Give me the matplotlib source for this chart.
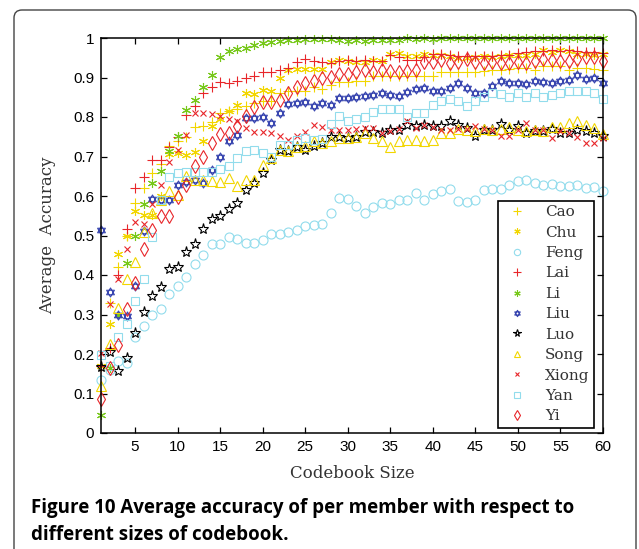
import matplotlib
matplotlib.use('Agg')
import matplotlib.pyplot as plt
from matplotlib.path import Path
from matplotlib.patches import FancyBboxPatch
import numpy as np

sizes = np.arange(1, 61)

cao = [0.17, 0.33, 0.42, 0.50, 0.583, 0.621, 0.657, 0.68, 0.727, 0.738, 0.75, 0.775, 0.776, 0.788, 0.811,
       0.815, 0.82, 0.828, 0.835, 0.84, 0.84, 0.86, 0.866, 0.866, 0.866, 0.877, 0.872, 0.88, 0.889, 0.889,
       0.89, 0.892, 0.904, 0.905, 0.905, 0.903, 0.905, 0.905, 0.905, 0.903, 0.915, 0.915, 0.915, 0.913, 0.915,
       0.917, 0.92, 0.92, 0.922, 0.923, 0.923, 0.918, 0.928, 0.928, 0.928, 0.92, 0.923, 0.923, 0.921, 0.92]
chu = [0.17, 0.276, 0.454, 0.50, 0.563, 0.552, 0.552, 0.60, 0.706, 0.71, 0.705, 0.712, 0.739, 0.776, 0.794,
       0.816, 0.83, 0.861, 0.859, 0.868, 0.865, 0.90, 0.92, 0.922, 0.922, 0.921, 0.921, 0.938, 0.945, 0.942,
       0.94, 0.94, 0.945, 0.943, 0.96, 0.962, 0.955, 0.955, 0.96, 0.958, 0.958, 0.955, 0.95, 0.95, 0.952,
       0.955, 0.953, 0.955, 0.957, 0.958, 0.958, 0.96, 0.97, 0.965, 0.97, 0.967, 0.96, 0.96, 0.958, 0.96]
feng = [0.134, 0.16, 0.183, 0.177, 0.243, 0.271, 0.30, 0.313, 0.352, 0.372, 0.395, 0.428, 0.45, 0.478, 0.479,
        0.497, 0.491, 0.481, 0.481, 0.488, 0.505, 0.503, 0.51, 0.515, 0.524, 0.527, 0.53, 0.556, 0.594, 0.592,
        0.575, 0.558, 0.571, 0.583, 0.579, 0.59, 0.59, 0.607, 0.59, 0.605, 0.613, 0.618, 0.588, 0.586, 0.59,
        0.615, 0.618, 0.618, 0.627, 0.637, 0.64, 0.633, 0.627, 0.631, 0.625, 0.625, 0.627, 0.619, 0.622, 0.613]
lai = [0.17, 0.215, 0.40, 0.516, 0.62, 0.647, 0.69, 0.69, 0.723, 0.75, 0.805, 0.828, 0.861, 0.877, 0.889,
       0.885, 0.891, 0.898, 0.904, 0.915, 0.913, 0.92, 0.925, 0.94, 0.946, 0.943, 0.94, 0.936, 0.942, 0.944,
       0.942, 0.945, 0.943, 0.942, 0.957, 0.951, 0.944, 0.944, 0.953, 0.959, 0.96, 0.958, 0.955, 0.954, 0.955,
       0.954, 0.955, 0.957, 0.958, 0.963, 0.964, 0.967, 0.967, 0.969, 0.966, 0.969, 0.966, 0.965, 0.965, 0.963]
li = [0.045, 0.165, 0.30, 0.43, 0.50, 0.58, 0.632, 0.664, 0.713, 0.753, 0.818, 0.843, 0.877, 0.906, 0.953,
      0.967, 0.973, 0.975, 0.983, 0.987, 0.99, 0.993, 0.995, 0.996, 0.997, 0.998, 0.998, 0.998, 0.994, 0.993,
      0.994, 0.993, 0.994, 0.994, 0.995, 0.996, 0.999, 0.998, 0.999, 0.998, 0.999, 0.999, 0.999, 0.999, 0.999,
      0.999, 0.999, 0.999, 0.999, 0.999, 0.999, 0.999, 0.999, 0.999, 0.999, 0.999, 0.999, 0.999, 0.999, 0.999]
liu = [0.515, 0.358, 0.298, 0.295, 0.372, 0.512, 0.592, 0.59, 0.59, 0.628, 0.635, 0.64, 0.632, 0.667, 0.70,
       0.738, 0.754, 0.797, 0.797, 0.80, 0.786, 0.809, 0.833, 0.836, 0.837, 0.828, 0.836, 0.83, 0.849, 0.849,
       0.851, 0.853, 0.855, 0.86, 0.855, 0.853, 0.863, 0.872, 0.874, 0.865, 0.867, 0.874, 0.885, 0.874, 0.861,
       0.861, 0.878, 0.891, 0.885, 0.885, 0.883, 0.89, 0.889, 0.887, 0.89, 0.893, 0.906, 0.896, 0.898, 0.887]
luo = [0.168, 0.205, 0.157, 0.19, 0.254, 0.306, 0.348, 0.37, 0.415, 0.42, 0.459, 0.478, 0.516, 0.542, 0.55,
       0.566, 0.583, 0.614, 0.634, 0.657, 0.69, 0.716, 0.715, 0.725, 0.716, 0.727, 0.733, 0.75, 0.75, 0.746,
       0.75, 0.763, 0.763, 0.759, 0.767, 0.768, 0.78, 0.778, 0.78, 0.776, 0.776, 0.79, 0.78, 0.771, 0.752,
       0.768, 0.767, 0.782, 0.767, 0.777, 0.759, 0.764, 0.764, 0.77, 0.76, 0.759, 0.768, 0.764, 0.759, 0.752]
song = [0.12, 0.225, 0.317, 0.39, 0.434, 0.51, 0.556, 0.59, 0.613, 0.602, 0.65, 0.641, 0.641, 0.638, 0.636,
        0.646, 0.625, 0.641, 0.641, 0.678, 0.695, 0.716, 0.713, 0.725, 0.726, 0.738, 0.733, 0.738, 0.746, 0.747,
        0.75, 0.76, 0.746, 0.738, 0.723, 0.738, 0.742, 0.741, 0.738, 0.742, 0.76, 0.759, 0.77, 0.767, 0.765,
        0.77, 0.767, 0.77, 0.775, 0.768, 0.765, 0.767, 0.764, 0.775, 0.775, 0.784, 0.789, 0.78, 0.771, 0.756]
xiong = [0.203, 0.327, 0.39, 0.465, 0.533, 0.53, 0.58, 0.628, 0.685, 0.716, 0.755, 0.81, 0.81, 0.808, 0.803,
         0.795, 0.79, 0.771, 0.763, 0.763, 0.759, 0.752, 0.743, 0.752, 0.763, 0.78, 0.775, 0.767, 0.767, 0.768,
         0.77, 0.772, 0.772, 0.76, 0.765, 0.77, 0.79, 0.772, 0.781, 0.775, 0.767, 0.768, 0.77, 0.77, 0.776,
         0.77, 0.767, 0.752, 0.752, 0.767, 0.784, 0.767, 0.767, 0.746, 0.764, 0.76, 0.75, 0.735, 0.735, 0.746]
yan = [0.197, 0.17, 0.244, 0.275, 0.333, 0.39, 0.497, 0.59, 0.649, 0.657, 0.662, 0.66, 0.662, 0.662, 0.668,
       0.676, 0.695, 0.714, 0.717, 0.71, 0.70, 0.729, 0.729, 0.743, 0.748, 0.742, 0.745, 0.782, 0.802, 0.79,
       0.795, 0.80, 0.813, 0.82, 0.82, 0.82, 0.80, 0.81, 0.81, 0.83, 0.84, 0.845, 0.84, 0.829, 0.841,
       0.851, 0.86, 0.857, 0.851, 0.86, 0.851, 0.862, 0.851, 0.855, 0.86, 0.866, 0.866, 0.867, 0.862, 0.845]
yi = [0.085, 0.165, 0.223, 0.314, 0.38, 0.467, 0.514, 0.549, 0.549, 0.598, 0.628, 0.677, 0.70, 0.733, 0.758,
      0.759, 0.777, 0.803, 0.825, 0.839, 0.839, 0.843, 0.86, 0.875, 0.885, 0.89, 0.90, 0.902, 0.91, 0.908,
      0.913, 0.92, 0.913, 0.92, 0.917, 0.913, 0.917, 0.92, 0.94, 0.94, 0.945, 0.937, 0.94, 0.946, 0.94,
      0.937, 0.94, 0.937, 0.937, 0.94, 0.937, 0.943, 0.948, 0.944, 0.943, 0.943, 0.948, 0.953, 0.952, 0.943]

# star of David marker: two overlapping triangles
ang_up = np.deg2rad([90, 210, 330, 90])
ang_dn = np.deg2rad([270, 30, 150, 270])
hex_verts = list(zip(np.cos(ang_up), np.sin(ang_up))) + list(zip(np.cos(ang_dn), np.sin(ang_dn)))
hex_codes = [Path.MOVETO, Path.LINETO, Path.LINETO, Path.CLOSEPOLY] * 2
hexagram = Path(hex_verts, hex_codes)

yellow = '#f2d600'
cyan = '#92dcec'
red = '#e8262a'
green = '#77c81a'
blue = '#3a47b0'

series = [
    ('Cao', cao, '+', yellow, 7.5),
    ('Chu', chu, (6, 2, 0), yellow, 6.5),
    ('Feng', feng, 'o', cyan, 6.5),
    ('Lai', lai, '+', red, 7.5),
    ('Li', li, (6, 2, 0), green, 6.5),
    ('Liu', liu, hexagram, blue, 6.5),
    ('Luo', luo, '*', 'black', 8),
    ('Song', song, '^', yellow, 7),
    ('Xiong', xiong, 'x', red, 5),
    ('Yan', yan, 's', cyan, 6),
    ('Yi', yi, 'd', red, 7.5),
]

fig = plt.figure(figsize=(6.39, 5.49), dpi=100)
ax = fig.add_axes([101 / 639, 1 - 433 / 549, 502 / 639, 395 / 549])

for name, vals, mk, col, ms in series:
    ax.plot(sizes, vals, linestyle='none', marker=mk, markersize=ms, markeredgecolor=col,
            markerfacecolor='none', markeredgewidth=0.8, label=name, clip_on=False)

ax.set_xlim(1, 60)
ax.set_ylim(0, 1)
ax.set_xticks(range(5, 61, 5))
ax.set_yticks(np.arange(0, 1.01, 0.1))
ax.set_yticklabels(['0', '0.1', '0.2', '0.3', '0.4', '0.5', '0.6', '0.7', '0.8', '0.9', '1'])
ax.tick_params(direction='in', top=True, right=True, length=4, width=0.9, labelsize=11, pad=5)
for lab in ax.get_xticklabels() + ax.get_yticklabels():
    lab.set_family('Liberation Sans')
for s in ax.spines.values():
    s.set_linewidth(1.1)

ax.set_xlabel('Codebook Size', family='DejaVu Serif', fontsize=12, color='#333333', labelpad=8)
ax.set_ylabel('Average  Accuracy', family='DejaVu Serif', fontsize=12, color='#333333', labelpad=12)

leg = ax.legend(loc='lower right', bbox_to_anchor=(0.982, 0.0127), borderaxespad=0, numpoints=1,
                fancybox=False, framealpha=1, edgecolor='black', handlelength=2.0, handletextpad=0.8,
                labelspacing=0.42, borderpad=0.3, markerscale=0.7,
                prop={'family': 'DejaVu Serif', 'size': 11})
leg.get_frame().set_linewidth(1.2)
for t in leg.get_texts():
    t.set_color('#333333')

# figure frame with rounded top corners
frame = FancyBboxPatch((14, -30), 622, 569, boxstyle='round,pad=0,rounding_size=8',
                       transform=None, facecolor='none', edgecolor='#444444', linewidth=1.0)
fig.add_artist(frame)

fig.text(31 / 639, 1 - 513 / 549, 'Figure 10 Average accuracy of per member with respect to',
         family='Open Sans', fontweight='bold', fontsize=13.5, va='baseline')
fig.text(31 / 639, 1 - 540 / 549, 'different sizes of codebook.',
         family='Open Sans', fontweight='bold', fontsize=13.5, va='baseline')

fig.savefig('out.png', dpi=100)
